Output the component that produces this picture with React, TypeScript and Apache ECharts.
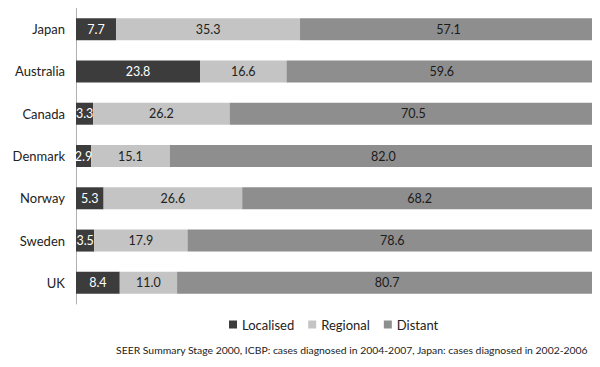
import React, { useEffect, useRef } from "react";
import * as echarts from "echarts";

const countries = ["Japan", "Australia", "Canada", "Denmark", "Norway", "Sweden", "UK"];
const localised = [7.7, 23.8, 3.3, 2.9, 5.3, 3.5, 8.4];
const regional = [35.3, 16.6, 26.2, 15.1, 26.6, 17.9, 11.0];
const distant = [57.1, 59.6, 70.5, 82.0, 68.2, 78.6, 80.7];

const FONT = "Lato, 'Noto Sans', sans-serif";
const SOURCE_NOTE =
  "SEER Summary Stage 2000, ICBP: cases diagnosed in 2004-2007, Japan: cases diagnosed in 2002-2006";

export default function App() {
  const ref = useRef<HTMLDivElement>(null);

  useEffect(() => {
    if (!ref.current) return;
    const chart = echarts.init(ref.current, null, { renderer: "svg" });

    const mkSeries = (name: string, data: number[], color: string, labelColor: string) => ({
      name,
      type: "bar",
      stack: "total",
      data,
      barWidth: 22,
      itemStyle: { color },
      label: {
        show: true,
        position: "inside",
        color: labelColor,
        fontFamily: FONT,
        fontSize: 12.5,
        formatter: (p: any) => Number(p.value).toFixed(1),
      },
    });

    chart.setOption({
      animation: false,
      grid: { left: 76, right: 3, top: 8, bottom: 63, containLabel: false },
      xAxis: {
        type: "value",
        min: 0,
        max: 100,
        show: false,
      },
      yAxis: {
        type: "category",
        data: countries,
        inverse: true,
        axisLine: { show: true, lineStyle: { color: "#b0b0b0", width: 1 } },
        axisTick: { show: false },
        axisLabel: { color: "#222", fontFamily: FONT, fontSize: 13, margin: 11 },
      },
      legend: {
        data: ["Localised", "Regional", "Distant"],
        left: 224,
        top: 313,
        itemWidth: 8,
        itemHeight: 8,
        itemGap: 14,
        icon: "rect",
        textStyle: { fontFamily: FONT, fontSize: 13, color: "#222" },
      },
      graphic: [
        {
          type: "text",
          left: 116,
          top: 345,
          style: {
            text: SOURCE_NOTE,
            fontFamily: FONT,
            fontSize: 10.4,
            fill: "#222",
          },
        },
      ],
      series: [
        mkSeries("Localised", localised, "#3c3c3c", "#ffffff"),
        mkSeries("Regional", regional, "#c4c4c4", "#222222"),
        mkSeries("Distant", distant, "#8e8e8e", "#1a1a1a"),
      ],
    });

    return () => chart.dispose();
  }, []);

  return <div ref={ref} style={{ width: 600, height: 367, margin: -8 }} />;
}
